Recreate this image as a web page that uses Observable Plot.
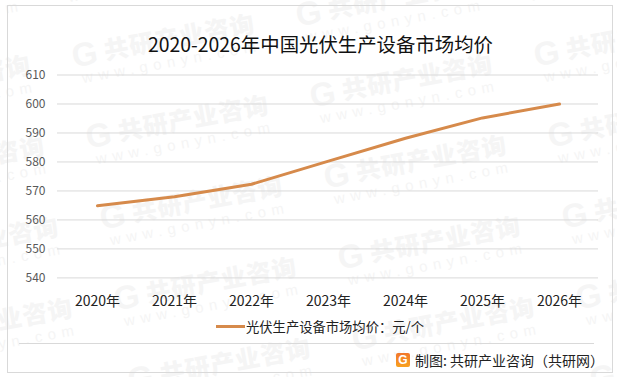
<!DOCTYPE html>
<html>
<head>
<meta charset="utf-8">
<script src="https://cdn.jsdelivr.net/npm/d3@7"></script>
<script src="https://cdn.jsdelivr.net/npm/@observablehq/plot@0.6"></script>
<style>
html,body{margin:0;padding:0;background:#fff;}
#page{position:relative;width:617px;height:377px;overflow:hidden;font-family:"Noto Sans CJK SC","Noto Sans",sans-serif;}
#page svg{position:absolute;left:0;top:0;}
#frame{position:absolute;left:7px;top:5px;width:604px;height:366px;border:1px solid #d9d9d9;}
#title{position:absolute;left:0;width:641px;top:29px;text-align:center;font-size:19.4px;line-height:30px;color:#111;white-space:nowrap;}
#legend{position:absolute;left:216px;top:316px;height:20px;display:flex;align-items:center;font-size:13.3px;color:#222;white-space:nowrap;}
#legend i{display:block;width:29px;height:3px;background:#d68a4b;margin-right:1px;}
#rule{position:absolute;left:19px;top:343px;width:575px;height:1px;background:#d9d9d9;}
#source{position:absolute;left:396px;top:350px;height:20px;display:flex;align-items:center;font-size:14px;color:#222;white-space:nowrap;}
#logo{width:14px;height:14px;border-radius:2px;background:linear-gradient(#f2772b,#f9a11f);color:#fff;font:bold 12px/14px "Liberation Sans";text-align:center;margin-right:5px;}
.wm{position:absolute;color:#f5f5f5;transform-origin:0 0;transform:rotate(-10.4deg);white-space:nowrap;}
.wm b{display:block;font-size:24.5px;line-height:32px;font-weight:900;letter-spacing:1px;}
.wm b em{font:900 33px/32px "Liberation Sans";margin-right:6px;vertical-align:-2px;}
.wm span{display:block;font:15px/14px "Liberation Sans";letter-spacing:5.6px;margin-left:6px;}
</style>
</head>
<body>
<div id="page"></div>
<script>
const years = ["2020年","2021年","2022年","2023年","2024年","2025年","2026年"];
const prices = [564.9, 568, 572.3, 580.3, 588.2, 595.2, 600];
const yTicks = [540, 550, 560, 570, 580, 590, 600, 610];
const titleText = "2020-2026年中国光伏生产设备市场均价";
const seriesName = "光伏生产设备市场均价：元/个";
const sourceText = "制图: 共研产业咨询（共研网）";
const wmMain = "共研产业咨询";
const wmSub = "www.gonyn.com";

const page = document.getElementById("page");

// tiled watermark, behind the chart
for (let i = -2; i <= 5; i++) {
  for (let j = -1; j <= 3; j++) {
    const left = 69 + i * 14 + j * 224, top = 40 + i * 81 - j * 41;
    if (left > 617 || left < -190 || top > 400 || top < -50) continue;
    const el = document.createElement("div");
    el.className = "wm";
    el.style.left = left + "px";
    el.style.top = top + "px";
    el.innerHTML = "<b><em>G</em>" + wmMain + "</b><span>" + wmSub + "</span>";
    page.appendChild(el);
  }
}

const data = years.map((year, i) => ({year, price: prices[i]}));

const chart = Plot.plot({
  width: 617,
  height: 377,
  marginLeft: 57,
  marginRight: 19,
  marginTop: 74.5,
  marginBottom: 99.6,
  style: {background: "transparent", fontFamily: '"Noto Sans CJK SC","Noto Sans",sans-serif', overflow: "visible"},
  x: {type: "point", domain: years, padding: 0.5, label: null},
  y: {domain: [540, 610], label: null},
  marks: [
    Plot.ruleY(yTicks, {stroke: "#d9d9d9", strokeWidth: 1, strokeOpacity: 1}),
    Plot.axisY({ticks: yTicks, tickSize: 0, tickPadding: 12, fontSize: 12, fill: "#595959", label: null}),
    Plot.axisX({tickSize: 0, tickPadding: 18, fontSize: 14, fill: "#222", label: null}),
    Plot.line(data, {x: "year", y: "price", stroke: "#d68a4b", strokeWidth: 3, curve: "linear"})
  ]
});
page.appendChild(chart);

function add(id, html) {
  const el = document.createElement("div");
  el.id = id;
  el.innerHTML = html;
  page.appendChild(el);
}
add("frame", "");
add("title", titleText);
add("legend", "<i></i>" + seriesName);
add("rule", "");
add("source", '<div id="logo">G</div>' + sourceText);
</script>
</body>
</html>
